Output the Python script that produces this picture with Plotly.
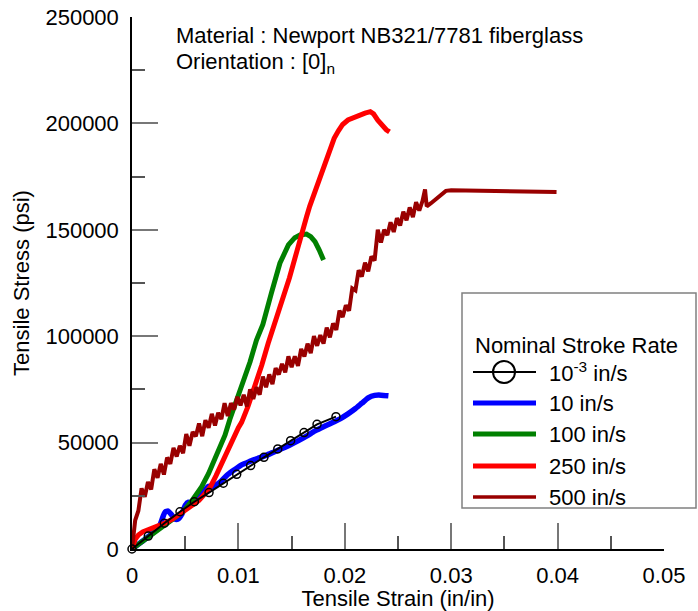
import plotly.graph_objects as go

# ---- data: tensile strain (in/in) vs tensile stress (psi) ----
strain_quasi = [0.0, 0.00153, 0.00304, 0.00451, 0.00586, 0.00724, 0.00858, 0.00984,
                0.01115, 0.0124, 0.0137, 0.01491, 0.01617, 0.01739, 0.01917]
stress_quasi = [0, 6100, 12100, 17500, 22200, 26500, 30900, 35100,
                39200, 43100, 47000, 50900, 54700, 58600, 62200]

strain_10 = [0.0, 0.0008, 0.0016, 0.0022, 0.0026, 0.0029, 0.0031, 0.0034, 0.0037, 0.004,
             0.0043, 0.0047, 0.005, 0.0053, 0.0057, 0.0062, 0.0068, 0.0072, 0.0077, 0.0083,
             0.009, 0.0097, 0.0103, 0.011, 0.0118, 0.0126, 0.0133, 0.014, 0.0148, 0.0156,
             0.0164, 0.0172, 0.018, 0.0188, 0.0196, 0.0203, 0.021, 0.0216, 0.0222, 0.0228,
             0.0234, 0.0241]
stress_10 = [0, 3000, 6000, 8800, 11000, 15000, 17300, 17800, 16200, 14200,
             14000, 16500, 20500, 22000, 21200, 23500, 27500, 29500, 29500, 31500,
             35000, 37500, 39500, 41000, 42500, 44000, 45500, 47000, 48800, 50800,
             53000, 55500, 57500, 59300, 61300, 63500, 66000, 68500, 71000, 72200,
             72300, 72000]

strain_100 = [0.0, 0.001, 0.002, 0.003, 0.004, 0.0048, 0.0056, 0.00655, 0.0072, 0.0078,
              0.00874, 0.0092, 0.0098, 0.0105, 0.0111, 0.0117, 0.0123, 0.0131, 0.0139,
              0.0147, 0.0153, 0.0158, 0.0164, 0.0168, 0.0172, 0.0176, 0.018]
stress_100 = [0, 3500, 7200, 10800, 14300, 17500, 22500, 29300, 35500, 42000,
              53500, 61000, 69500, 79400, 88000, 98200, 105500, 120200, 134300,
              142900, 146300, 147600, 148000, 146800, 144400, 140500, 135800]

strain_250 = [0.0, 0.0003, 0.0006, 0.001, 0.0015, 0.0022, 0.0031, 0.0038, 0.0044, 0.005,
              0.0056, 0.0063, 0.0069, 0.0074, 0.0079, 0.0084, 0.009, 0.0095, 0.01, 0.0103,
              0.0106, 0.0109, 0.0112, 0.0117, 0.0122, 0.0128, 0.0135, 0.0142, 0.0148, 0.0155,
              0.016, 0.0164, 0.0167, 0.0172, 0.0177, 0.0182, 0.0186, 0.019, 0.0194, 0.0198,
              0.0203, 0.0208, 0.0214, 0.0219, 0.0224, 0.0227, 0.0231, 0.0235, 0.0239, 0.0242]
stress_250 = [0, 4500, 6600, 8000, 9000, 10300, 12200, 14000, 16000, 18000,
              20000, 22800, 26200, 29500, 34500, 40000, 47000, 52000, 57000, 59500,
              63000, 67000, 71500, 78500, 86500, 96700, 107500, 117500, 127500, 140000,
              150000, 156000, 161000, 168000, 175000, 181500, 187500, 193000, 196500, 199500,
              201600, 202800, 204000, 204800, 205500, 204500, 201500, 199000, 197000, 196000]

strain_500 = [0.0, 0.0003, 0.0006, 0.0009, 0.0012, 0.0015, 0.0018, 0.0021, 0.0024, 0.0027,
              0.003, 0.0033, 0.0036, 0.0039, 0.0042, 0.0045, 0.0048, 0.0051, 0.0054, 0.0057,
              0.006, 0.0063, 0.0066, 0.0069, 0.0072, 0.0075, 0.0078, 0.0081, 0.0084, 0.0087,
              0.009, 0.0093, 0.0096, 0.0099, 0.0102, 0.0105, 0.0108, 0.0111, 0.0114, 0.0117,
              0.012, 0.0123, 0.0126, 0.0129, 0.0132, 0.0135, 0.0138, 0.0141, 0.0144, 0.0147,
              0.015, 0.0153, 0.0156, 0.0159, 0.0162, 0.0165, 0.0168, 0.0171, 0.0174, 0.0177,
              0.018, 0.0183, 0.0186, 0.0189, 0.0192, 0.0195, 0.0198, 0.0201, 0.0204, 0.0207,
              0.021, 0.0213, 0.0216, 0.0219, 0.0222, 0.0225, 0.0228, 0.0231, 0.0234, 0.0237,
              0.024, 0.0243, 0.0246, 0.0249, 0.0252, 0.0255, 0.0258, 0.0261, 0.0264, 0.0267,
              0.027, 0.0273, 0.02754, 0.0277, 0.0281, 0.0288, 0.0295, 0.03, 0.0399]
stress_500 = [0, 13500, 18000, 28500, 24500, 31500, 28000, 37500, 33500, 40000,
              35000, 43000, 40000, 47500, 43500, 48500, 45000, 54000, 48500, 55000,
              53000, 59000, 53000, 60500, 57000, 63500, 58000, 64000, 61000, 68500,
              62500, 68500, 65500, 71500, 67500, 72500, 67000, 75000, 70500, 76000,
              72500, 81000, 76000, 82000, 77500, 85000, 82000, 87000, 83000, 90500,
              85500, 90500, 86000, 94000, 90500, 96500, 92000, 100000, 95500, 100500,
              96500, 104000, 99500, 106000, 103000, 112000, 109000, 114500, 112000, 122500,
              121500, 131000, 128000, 134500, 130500, 137500, 135500, 150000, 144000, 150000,
              147500, 153500, 149000, 155500, 152000, 158500, 154500, 160500, 156000, 163000,
              159000, 163500, 169000, 161000, 162500, 165500, 168300, 168600, 167800]

series_names = ["10<sup>-3</sup> in/s", "10 in/s", "100 in/s", "250 in/s", "500 in/s"]
series_colors = ["#000000", "#0000FF", "#008000", "#FF0000", "#990000"]

FONT = "Liberation Sans, Arial, sans-serif"
FS = 22
W, H = 698, 611
L, R, T, B = 132, 34, 17, 62
PW, PH = W - L - R, H - T - B


def px(x):
    return (x - L) / PW


def py(y):
    return (H - B - y) / PH


fig = go.Figure()

fig.add_trace(go.Scatter(x=strain_10, y=stress_10, mode="lines",
                         line=dict(color=series_colors[1], width=5.5, shape="spline",
                                   smoothing=0.6), showlegend=False))
fig.add_trace(go.Scatter(x=strain_100, y=stress_100, mode="lines",
                         line=dict(color=series_colors[2], width=5), showlegend=False))
fig.add_trace(go.Scatter(x=strain_250, y=stress_250, mode="lines",
                         line=dict(color=series_colors[3], width=5), showlegend=False))
fig.add_trace(go.Scatter(x=strain_500, y=stress_500, mode="lines",
                         line=dict(color=series_colors[4], width=4), showlegend=False))
fig.add_trace(go.Scatter(x=strain_quasi, y=stress_quasi, mode="lines+markers",
                         line=dict(color=series_colors[0], width=2),
                         marker=dict(symbol="circle-open", size=8, color="#000000",
                                     line=dict(width=1.5)),
                         cliponaxis=False, showlegend=False))

axis_common = dict(showgrid=False, zeroline=False, showline=True, linecolor="#000000",
                   linewidth=1.5, ticks="inside", ticklen=26, tickwidth=1.5,
                   tickcolor="#777777", tickfont=dict(family=FONT, size=FS, color="#000000"),
                   mirror=False)

fig.update_xaxes(range=[0, 0.05], dtick=0.01, tick0=0,
                 minor=dict(ticks="inside", ticklen=13, dtick=0.005, tickwidth=1.5,
                            tickcolor="#555555"),
                 ticklabelstandoff=6,
                 title=dict(text="Tensile Strain (in/in)", standoff=0,
                            font=dict(family=FONT, size=FS, color="#000000")),
                 **axis_common)
fig.update_yaxes(range=[0, 250000], dtick=50000, tick0=0, tickformat="d",
                 minor=dict(ticks="inside", ticklen=13, dtick=25000, tickwidth=1.5,
                            tickcolor="#555555"),
                 ticklabelstandoff=7,
                 title=dict(text="Tensile Stress (psi)", standoff=10,
                            font=dict(family=FONT, size=FS, color="#000000")),
                 **axis_common)

annotations = [
    dict(x=px(174), y=py(36), text="Material : Newport NB321/7781 fiberglass"),
    dict(x=px(174), y=py(63), text="Orientation : [0]<sub>n</sub>"),
    dict(x=px(473), y=py(345), text="Nominal Stroke Rate"),
]
legend_rows = [372, 403, 434, 466, 497]
for name, yrow in zip(series_names, legend_rows):
    annotations.append(dict(x=px(547), y=py(yrow), text=name))
for a in annotations:
    a.update(xref="paper", yref="paper", xanchor="left", yanchor="middle",
             showarrow=False, font=dict(family=FONT, size=FS, color="#000000"))
fig.update_layout(annotations=annotations)

shapes = [dict(type="rect", xref="paper", yref="paper", x0=px(462), x1=px(696),
               y0=py(508), y1=py(293), line=dict(color="#808080", width=1.5))]
sample_widths = [2, 5, 5, 5, 3.5]
for color, wdt, yrow in zip(series_colors, sample_widths, legend_rows):
    shapes.append(dict(type="line", xref="paper", yref="paper", x0=px(473), x1=px(536),
                       y0=py(yrow), y1=py(yrow), line=dict(color=color, width=wdt)))
shapes.append(dict(type="circle", xref="paper", yref="paper", x0=px(493), x1=px(515),
                   y0=py(legend_rows[0] + 11), y1=py(legend_rows[0] - 11),
                   line=dict(color="#000000", width=2), fillcolor="rgba(0,0,0,0)"))
fig.update_layout(shapes=shapes)

fig.update_layout(width=W, height=H, margin=dict(l=L, r=R, t=T, b=B, autoexpand=False),
                  paper_bgcolor="white", plot_bgcolor="white", showlegend=False)

fig.write_html("out.html")
